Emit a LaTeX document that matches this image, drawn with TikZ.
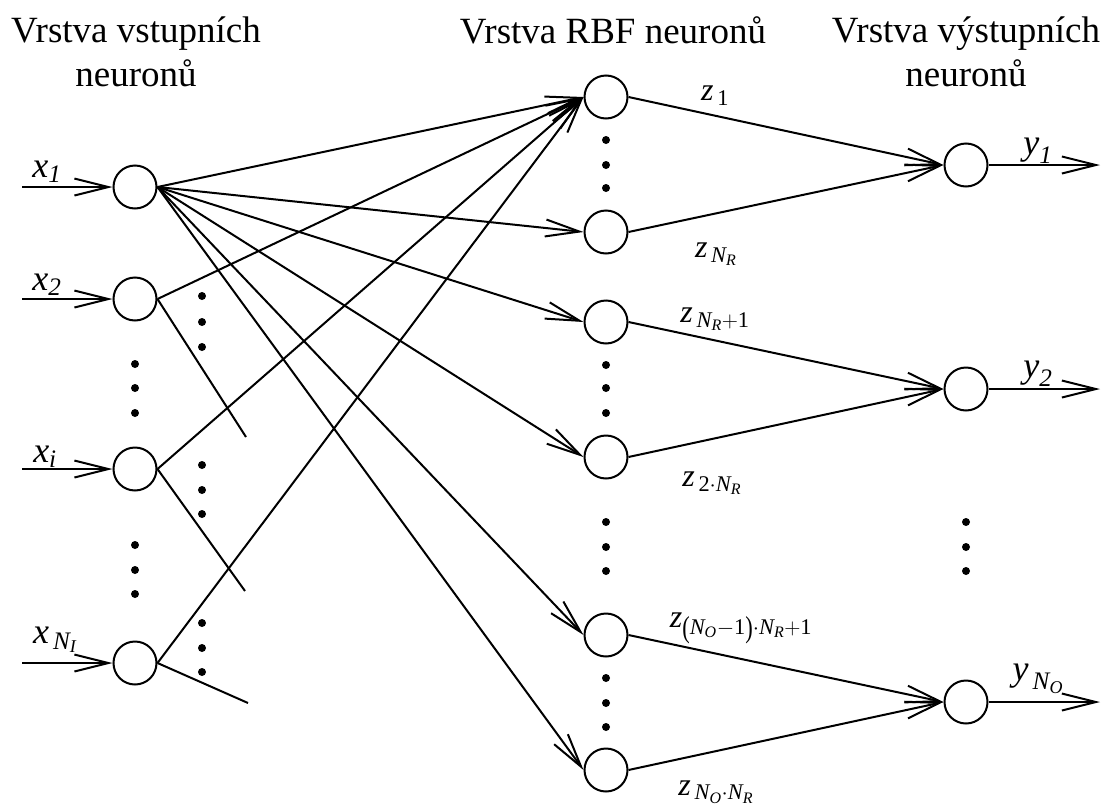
\RequirePackage{fix-cm}
\documentclass[tikz,border=0pt]{standalone}
\usepackage{amsmath}
\usepackage{graphicx}
\usepackage{fontspec}
\setmainfont{Liberation Serif}
\usetikzlibrary{arrows.meta}
\newcommand\vI[1]{\text{\itshape #1}}
\newcommand\vR[1]{\text{\upshape #1}}
\newcommand\pL{\text{\raisebox{-0.12em}{\scalebox{1}[1.35]{(}}}}
\newcommand\pR{\text{\raisebox{-0.12em}{\scalebox{1}[1.35]{)}}}}
\begin{document}
\begin{tikzpicture}[x=1pt,y=-1pt,line width=2pt,
  neuron/.style={circle,draw,minimum size=43pt,inner sep=0pt,line width=2pt},
  arr/.style={-{Straight Barb[length=34pt,width=17pt]}},
  head/.style={align=center,font=\fontsize{37}{44}\selectfont,inner sep=0pt},
  lab/.style={inner sep=0pt,font=\fontsize{36}{42}\selectfont},
  zlab/.style={inner sep=0pt,font=\fontsize{32}{38}\selectfont}]
\useasboundingbox (0,0) rectangle (1101,809);
\clip (0,0) rectangle (1101,809);
% headers
\node[head,anchor=north] (h1) at (136,16) {Vrstva vstupních\\neuronů};
\node[head,anchor=north] (h2) at (613,16) {Vrstva RBF neuronů};
\node[head,anchor=north] (h3) at (966,16) {Vrstva výstupních\\neuronů};
% input neurons
\node[neuron] (i1) at (135,187) {};
\node[neuron] (i2) at (135,299) {};
\node[neuron] (ii) at (135,469) {};
\node[neuron] (iN) at (135,663) {};
% RBF neurons
\node[neuron] (r1) at (606,97) {};
\node[neuron] (r2) at (606,232) {};
\node[neuron] (r3) at (606,322) {};
\node[neuron] (r4) at (606,457) {};
\node[neuron] (r5) at (606,635) {};
\node[neuron] (r6) at (606,770) {};
% output neurons
\node[neuron] (o1) at (966,165) {};
\node[neuron] (o2) at (966,389) {};
\node[neuron] (o3) at (966,702) {};
% input arrows
\coordinate (s1) at (22,187);
\coordinate (s2) at (22,299);
\coordinate (si) at (22,469);
\coordinate (sN) at (22,663);
\draw[arr] (s1) -- (i1.west);
\draw[arr] (s2) -- (i2.west);
\draw[arr] (si) -- (ii.west);
\draw[arr] (sN) -- (iN.west);
% from x1 to all RBF
\foreach \r in {r1,r2,r3,r4,r5,r6}
  \draw[arr] (i1.east) -- (\r.west);
% from other inputs to r1
\draw[arr] (i2.east) -- (r1.west);
\draw[arr] (ii.east) -- (r1.west);
\draw[arr] (iN.east) -- (r1.west);
% truncated lines
\coordinate (t2) at (246,437);
\coordinate (ti) at (245,591);
\coordinate (tN) at (248,703);
\draw (i2.east) -- (t2);
\draw (ii.east) -- (ti);
\draw (iN.east) -- (tN);
% RBF to outputs
\draw[arr] (r1.east) -- (o1.west);
\draw[arr] (r2.east) -- (o1.west);
\draw[arr] (r3.east) -- (o2.west);
\draw[arr] (r4.east) -- (o2.west);
\draw[arr] (r5.east) -- (o3.west);
\draw[arr] (r6.east) -- (o3.west);
% output arrows
\coordinate (e1) at (1100,165);
\coordinate (e2) at (1100,389);
\coordinate (e3) at (1100,702);
\draw[arr] (o1.east) -- (e1);
\draw[arr] (o2.east) -- (e2);
\draw[arr] (o3.east) -- (e3);
% dots
\foreach \x/\y in {606/140,606/165,606/188, 606/365,606/388,606/413,
  606/522,606/547,606/571, 606/678,606/703,606/727,
  135/364,135/388,135/413, 135/545,135/570,135/594,
  202/296,202/322,202/347, 202/465,202/490,202/514, 202/623,202/648,202/672,
  966/522,966/547,966/571}
  \fill (\x,\y) circle (4pt);
% labels
\node[lab] (lx1) at (47,172) {$\vI{x}_{\vI{1}}$};
\node[lab] (lx2) at (47,285) {$\vI{x}_{\vI{2}}$};
\node[lab] (lxi) at (45,457) {$\vI{x}_{\vI{i}}$};
\node[lab] (lxN) at (55,640) {$\vI{x}_{\,\vI{N}_{\vI{I}}}$};
\node[lab] (ly1) at (1038,151) {$\vI{y}_{\vI{1}}$};
\node[lab] (ly2) at (1038,374) {$\vI{y}_{\vI{2}}$};
\node[lab] (lyN) at (1038,679) {$\vI{y}_{\,\vI{N}_{\vI{O}}}$};
\node[zlab] (lz1) at (715,96) {$\vI{z}_{\,\vR{1}}$};
\node[zlab] (lz2) at (716,254) {$\vI{z}_{\,\vI{N}_{\vI{R}}}$};
\node[zlab] (lz3) at (715,319) {$\vI{z}_{\,\vI{N}_{\vI{R}}+\vR{1}}$};
\node[zlab] (lz4) at (712,483) {$\vI{z}_{\,\vR{2}\cdot\vI{N}_{\vI{R}}}$};
\node[zlab] (lz5) at (741,628) {$\vI{z}_{\pL\vI{N}_{\vI{O}}-\vR{1}\pR\cdot\vI{N}_{\vI{R}}+\vR{1}}$};
\node[zlab] (lz6) at (716,792) {$\vI{z}_{\,\vI{N}_{\vI{O}}\cdot\vI{N}_{\vI{R}}}$};
\end{tikzpicture}
\end{document}
